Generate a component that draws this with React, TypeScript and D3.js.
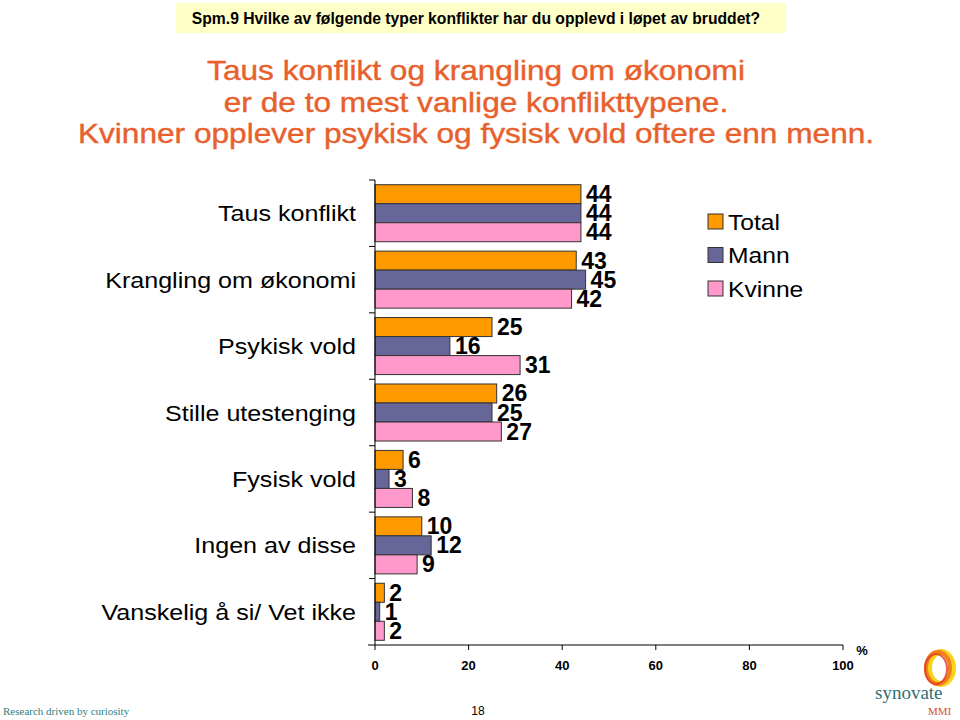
import React from "react";
import * as d3 from "d3";

const categories = [
  "Taus konflikt",
  "Krangling om økonomi",
  "Psykisk vold",
  "Stille utestenging",
  "Fysisk vold",
  "Ingen av disse",
  "Vanskelig å si/ Vet ikke",
];
const seriesNames = ["Total", "Mann", "Kvinne"];
const totalValues = [44, 43, 25, 26, 6, 10, 2];
const mannValues = [44, 45, 16, 25, 3, 12, 1];
const kvinneValues = [44, 42, 31, 27, 8, 9, 2];
const xTicks = [0, 20, 40, 60, 80, 100];
const colors = ["#FF9900", "#666699", "#FF99CC"];
const titleLines = [
  "Taus konflikt og krangling om økonomi",
  "er de to mest vanlige konflikttypene.",
  "Kvinner opplever psykisk og fysisk vold oftere enn menn.",
];

export default function App() {
  const W = 960, H = 720;
  const x = d3.scaleLinear().domain([0, 100]).range([375, 843]);
  const y = d3.scaleBand<string>().domain(categories).range([180, 645]).padding(0);
  const bw = y.bandwidth();
  const sub = d3.scaleBand<string>().domain(seriesNames).range([4.7, bw - 4.7]).padding(0);
  const series = [totalValues, mannValues, kvinneValues];
  const font = "Liberation Sans, Arial, sans-serif";

  return (
    <svg width={W} height={H} viewBox={`0 0 ${W} ${H}`}
      style={{ position: "absolute", left: 0, top: 0, background: "#fff" }}
      fontFamily={font}>
      <rect x={0} y={0} width={W} height={H} fill="#fff" />
      {/* Top question box */}
      <rect x={176} y={3} width={610} height={30} fill="#FFFFC8" />
      <text x={476} y={24} textAnchor="middle" fontSize={15.7} fontWeight="bold" fill="#000">
        Spm.9 Hvilke av følgende typer konflikter har du opplevd i løpet av bruddet?
      </text>
      {/* Title */}
      {titleLines.map((t, i) => (
        <text key={i} transform={`translate(476,${80 + i * 31.5}) scale(1.13,1)`}
          textAnchor="middle" fontSize={28} fill="#E8602C" stroke="#E8602C" strokeWidth={0.4}>{t}</text>
      ))}

      {/* Bars */}
      {categories.map((c, ci) => (
        <g key={c}>
          {series.map((vals, si) => {
            const y0 = (y(c) as number) + (sub(seriesNames[si]) as number);
            const h = sub.bandwidth();
            return (
              <g key={si}>
                <rect x={x(0)} y={y0} width={x(vals[ci]) - x(0)} height={h}
                  fill={colors[si]} stroke="#333" strokeWidth={1} />
                <text x={x(vals[ci]) + 5} y={y0 + h / 2 + 8} fontSize={23}
                  fontWeight="bold" fill="#000">{vals[ci]}</text>
              </g>
            );
          })}
          <text transform={`translate(356,${(y(c) as number) + bw / 2 + 8}) scale(1.14,1)`}
            textAnchor="end" fontSize={22} fill="#000">{c}</text>
        </g>
      ))}

      {/* Y axis */}
      <line x1={375} x2={375} y1={180} y2={645} stroke="#000" strokeWidth={1} />
      {categories.map((c) => (
        <line key={c} x1={369} x2={375} y1={y(c) as number} y2={y(c) as number} stroke="#000" />
      ))}
      {/* X axis */}
      <line x1={368} x2={x(100)} y1={645} y2={645} stroke="#000" strokeWidth={1} />
      {xTicks.map((t) => (
        <g key={t}>
          <line x1={x(t)} x2={x(t)} y1={645} y2={650} stroke="#000" />
          <text x={x(t)} y={670} textAnchor="middle" fontSize={13} fontWeight="bold">{t}</text>
        </g>
      ))}
      <text x={862} y={655} textAnchor="middle" fontSize={13} fontWeight="bold">%</text>

      {/* Legend */}
      {seriesNames.map((s, i) => (
        <g key={s}>
          <rect x={708} y={214 + i * 33.5} width={15} height={15} fill={colors[i]} stroke="#333" />
          <text transform={`translate(728,${229.5 + i * 33.5}) scale(1.12,1)`} fontSize={22}
            fill="#000">{s}</text>
        </g>
      ))}

      {/* Footer */}
      <text x={3} y={715} fontSize={11} fill="#2F7F80" fontFamily="Liberation Serif, serif">
        Research driven by curiosity
      </text>
      <text x={478} y={715} textAnchor="middle" fontSize={12} fill="#000">18</text>

      {/* Synovate logo */}
      <ellipse cx={941} cy={668} rx={12} ry={16} fill="none" stroke="#F7D417" strokeWidth={6} />
      <ellipse cx={938} cy={668} rx={12} ry={16} fill="none" stroke="#F08020" strokeWidth={4} />
      <ellipse cx={936} cy={669} rx={11} ry={15} fill="none" stroke="#E03A1E" strokeWidth={2} opacity={0.8} />
      <text x={875} y={699} fontSize={19} fill="#2F6F78" fontFamily="Liberation Serif, serif">synovate</text>
      <text x={928} y={715} fontSize={11} fill="#D2522A" fontFamily="Liberation Serif, serif">MMI</text>
    </svg>
  );
}
